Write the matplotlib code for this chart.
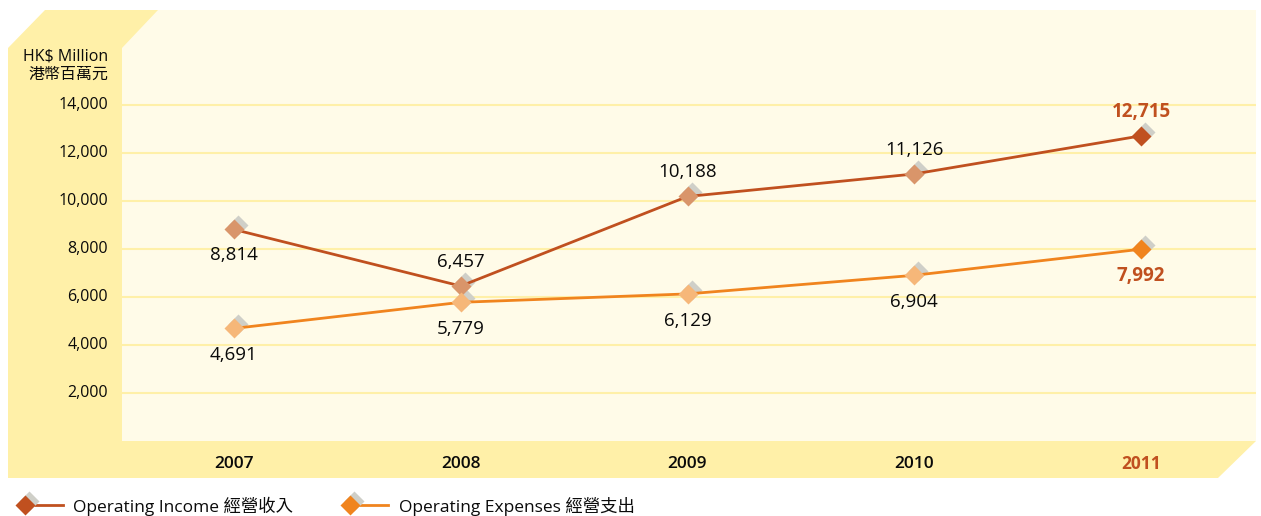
import numpy as np
import matplotlib.pyplot as plt
from matplotlib.patches import Polygon
from matplotlib.lines import Line2D
import matplotlib.transforms as mtransforms

plt.rcParams['font.family'] = ['Open Sans', 'Noto Sans CJK TC', 'DejaVu Sans']

years = ['2007', '2008', '2009', '2010', '2011']
income = [8814, 6457, 10188, 11126, 12715]
expenses = [4691, 5779, 6129, 6904, 7992]
yticks = [2000, 4000, 6000, 8000, 10000, 12000, 14000]

W, H = 1261, 516
fig = plt.figure(figsize=(W/100, H/100), dpi=100)


def px(x, y):
    return (x/W, 1 - y/H)


YEL = '#FFF0A8'
CREAM = '#FFFBE8'
INC = '#C0501F'
INC_L = '#D9956A'
EXP = '#F0841E'
EXP_L = '#F6B779'
SHADOW = '#CFCFC8'
TXT = '#0a0a0a'

# background panels
fig.patches.append(Polygon([px(8, 48), px(45, 10), px(1256, 10), px(1256, 441),
                            px(1218, 478), px(8, 478)], closed=True,
                           transform=fig.transFigure, fc=YEL, ec='none', zorder=-2))
fig.patches.append(Polygon([px(122, 48), px(158, 10), px(1256, 10), px(1256, 441),
                            px(122, 441)], closed=True,
                           transform=fig.transFigure, fc=CREAM, ec='none', zorder=-1))

l, r, t, b = 122, 1256, 10, 441
ax = fig.add_axes([l/W, 1 - b/H, (r-l)/W, (b-t)/H])
ax.patch.set_visible(False)
for s in ax.spines.values():
    s.set_visible(False)

x = np.arange(len(years))
step = (1141 - 234) / 4
ax.set_xlim(-(234 - l)/step, 4 + (r - 1141)/step)
ax.set_ylim(0, (b - t)/48*2000)

for v in yticks:
    ax.axhline(v, color=YEL, lw=1.5, zorder=1)

ax.set_xticks([])
ax.set_yticks([])

# y tick labels on the left strip
for v in yticks:
    ax.annotate(f'{v:,}', xy=(0, v), xycoords=('axes fraction', 'data'),
                xytext=(-14, 0), textcoords='offset pixels',
                ha='right', va='center', fontsize=11.5, color=TXT,
                annotation_clip=False)
fig.text(108/W, 1 - 57/H, 'HK$ Million', ha='right', va='center', fontsize=11.5, color=TXT)
fig.text(108/W, 1 - 75/H, '港幣百萬元', ha='right', va='center', fontsize=11.5, color=TXT)

# year labels in the bottom band
for i, yr in enumerate(years):
    last = i == len(years) - 1
    ax.annotate(yr, xy=(i, 0), xycoords='data', xytext=(0, -23), textcoords='offset pixels',
                ha='center', va='center', fontsize=12.5,
                fontweight='bold' if last else 'semibold',
                color=INC if last else TXT, annotation_clip=False)

shadow_tr = mtransforms.offset_copy(ax.transData, fig=fig, x=4, y=4, units='dots')


def draw_series(vals, lc, light, dark):
    ax.plot(x, vals, color=lc, lw=2, zorder=3)
    ax.plot(x, vals, 'D', ms=10.5, color=SHADOW, mec='none', transform=shadow_tr, zorder=2.5)
    cols = [light]*(len(vals)-1) + [dark]
    for xi, v, c in zip(x, vals, cols):
        ax.plot(xi, v, 'D', ms=10.5, color=c, mec='none', zorder=4)


draw_series(income, INC, INC_L, INC)
draw_series(expenses, EXP, EXP_L, EXP)

inc_off = [-26, 24, 24, 24, 24]
for i, v in enumerate(income):
    last = i == len(years) - 1
    ax.annotate(f'{v:,}', xy=(i, v), xytext=(0, inc_off[i]), textcoords='offset pixels',
                ha='center', va='center', fontsize=13.5,
                fontweight='bold' if last else 'normal',
                color=INC if last else TXT)
for i, v in enumerate(expenses):
    last = i == len(years) - 1
    ax.annotate(f'{v:,}', xy=(i, v), xytext=(0, -27), textcoords='offset pixels',
                ha='center', va='center', fontsize=13.5,
                fontweight='bold' if last else 'normal',
                color=INC if last else TXT)

# legend
for mx, lx2, tx, col, label in [(25, 63, 73, INC, 'Operating Income 經營收入'),
                                (350, 388, 399, EXP, 'Operating Expenses 經營支出')]:
    fig.add_artist(Line2D([mx/W, lx2/W], [1 - 505/H]*2, color=col, lw=2,
                          transform=fig.transFigure))
    fig.add_artist(Line2D([(mx+4)/W], [1 - 501/H], marker='D', ms=10.5, color=SHADOW,
                          mec='none', transform=fig.transFigure))
    fig.add_artist(Line2D([mx/W], [1 - 505/H], marker='D', ms=10.5, color=col,
                          mec='none', transform=fig.transFigure))
    fig.text(tx/W, 1 - 506/H, label, ha='left', va='center', fontsize=12.5, color=TXT)

fig.savefig('out.png', dpi=100, facecolor='white')
